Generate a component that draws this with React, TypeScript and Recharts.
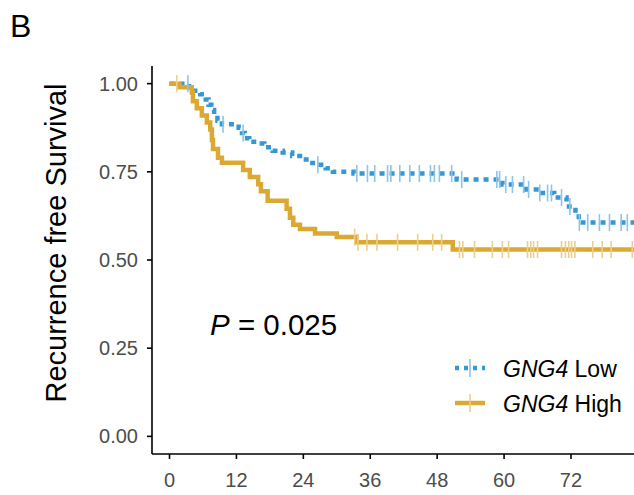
import React from "react";
import { ComposedChart, Line, Scatter, XAxis, YAxis } from "recharts";

// GNG4 Low (blue) Kaplan-Meier steps
const lowTimes = [0, 3.5, 4.5, 5.5, 6.5, 7.0, 7.5, 8.0, 8.6, 9.4, 12.4, 13.0, 13.5, 14.3, 15.8, 17.0, 18.5, 20.3, 22.0, 23.4, 25.0, 26.4, 28.0, 29.3, 33.0, 51.5, 59.7, 64.0, 66.4, 69.0, 71.2, 72.8, 73.4, 84.0];
const lowSurv = [1, 0.99, 0.98, 0.97, 0.955, 0.94, 0.925, 0.91, 0.895, 0.885, 0.875, 0.86, 0.845, 0.835, 0.83, 0.82, 0.81, 0.805, 0.795, 0.785, 0.775, 0.77, 0.76, 0.75, 0.745, 0.728, 0.714, 0.7, 0.69, 0.677, 0.652, 0.63, 0.606, 0.606];
const lowCensor = [3.3, 9.6, 13.2, 26.6, 33.6, 35.5, 36.8, 39.1, 39.7, 41.3, 43.1, 44.8, 46.8, 47.5, 48.4, 50.6, 52.4, 58.7, 59.2, 60.3, 61.5, 63.5, 64.4, 66.4, 67.8, 68.5, 70.3, 71.8, 73.5, 75.0, 77.1, 78.9, 81.0, 82.1];

// GNG4 High (gold) Kaplan-Meier steps
const highTimes = [0, 1.8, 4.0, 4.2, 4.9, 5.8, 6.7, 7.3, 7.6, 7.8, 8.7, 9.4, 13.2, 14.4, 15.9, 16.4, 17.6, 21.0, 21.6, 22.2, 23.4, 26.1, 30.0, 33.5, 50.8, 84.0];
const highSurv = [1, 0.99, 0.975, 0.95, 0.93, 0.91, 0.89, 0.87, 0.84, 0.815, 0.79, 0.776, 0.755, 0.735, 0.715, 0.695, 0.668, 0.645, 0.62, 0.6, 0.588, 0.575, 0.565, 0.55, 0.53, 0.53];
const highCensor = [1.3, 33.2, 33.8, 35.4, 37.2, 40.9, 44.5, 47.2, 48.8, 52.0, 52.6, 54.7, 57.9, 59.7, 60.8, 64.2, 64.8, 65.3, 66.0, 70.3, 71.0, 71.6, 72.1, 72.7, 75.9, 77.6, 79.2, 83.0];

const xTicks = [0, 12, 24, 36, 48, 60, 72];
const yTicks = [0, 0.25, 0.5, 0.75, 1];
const pValueText = "0.025";
const groupLabels = ["Low", "High"];
const geneName = "GNG4";

const BLUE = "#3597d3";
const GOLD = "#dba932";
const BLUE_LIGHT = "#8fc4e8";
const GOLD_LIGHT = "#ead08c";
const FONT = "'Liberation Sans', Arial, sans-serif";

const toSeries = (times: number[], surv: number[]) => times.map((t, i) => ({ t, s: surv[i] }));
const survAt = (times: number[], surv: number[], t: number) => {
  let v = surv[0];
  for (let i = 0; i < times.length; i++) if (times[i] <= t) v = surv[i];
  return v;
};
const toCensor = (cens: number[], times: number[], surv: number[]) => cens.map((t) => ({ t, s: survAt(times, surv, t) }));

const lowData = toSeries(lowTimes, lowSurv);
const highData = toSeries(highTimes, highSurv);
const lowCens = toCensor(lowCensor, lowTimes, lowSurv);
const highCens = toCensor(highCensor, highTimes, highSurv);

const makeTick = (color: string) => (props: any) => {
  const { cx, cy } = props;
  if (cx == null || cy == null) return null;
  return <line x1={cx} x2={cx} y1={cy - 8.5} y2={cy + 8.5} stroke={color} strokeWidth={1.6} />;
};

export default function App() {
  const W = 634;
  const H = 495;
  return (
    <div style={{ position: "relative", width: W, height: H, overflow: "hidden" }}>
      <style>{"html,body{margin:0;padding:0;overflow:hidden;}"}</style>
      <ComposedChart width={W} height={H} margin={{ top: 66, right: 0, left: 0, bottom: 0 }}>
        <XAxis
          type="number"
          dataKey="t"
          domain={[-3.14, 83.3]}
          ticks={xTicks}
          allowDataOverflow
          height={41}
          axisLine={{ stroke: "#000", strokeWidth: 1.6 }}
          tickLine={{ stroke: "#000", strokeWidth: 1.6 }}
          tickSize={5}
          tickMargin={14}
          tick={{ fill: "#4d4d4d", fontSize: 20, fontFamily: FONT }}
        />
        <YAxis
          type="number"
          dataKey="s"
          domain={[-0.05, 1.05]}
          ticks={yTicks}
          allowDataOverflow
          width={152}
          axisLine={{ stroke: "#000", strokeWidth: 1.6 }}
          tickLine={{ stroke: "#000", strokeWidth: 1.6 }}
          tickSize={5}
          tickMargin={9}
          tickFormatter={(v: number) => v.toFixed(2)}
          tick={{ fill: "#4d4d4d", fontSize: 20, fontFamily: FONT }}
        />
        <Line data={lowData} dataKey="s" type="stepAfter" stroke={BLUE} strokeWidth={4.5} strokeDasharray="5 5" dot={false} isAnimationActive={false} />
        <Line data={highData} dataKey="s" type="stepAfter" stroke={GOLD} strokeWidth={4.5} dot={false} isAnimationActive={false} />
        <Scatter data={lowCens} dataKey="s" shape={makeTick(BLUE_LIGHT)} isAnimationActive={false} />
        <Scatter data={highCens} dataKey="s" shape={makeTick(GOLD_LIGHT)} isAnimationActive={false} />
      </ComposedChart>
      <svg width={W} height={H} style={{ position: "absolute", left: 0, top: 0, pointerEvents: "none" }}>
        <text x={10} y={37} fontSize={32} fontFamily={FONT} fill="#000">B</text>
        <text
          x={0}
          y={0}
          transform="translate(56,243) rotate(-90)"
          textAnchor="middle"
          dominantBaseline="central"
          fontSize={29}
          fontFamily={FONT}
          fill="#000"
        >
          Recurrence free Survival
        </text>
        <text x={210} y={335} fontSize={29.5} fontFamily={FONT} fill="#000">
          <tspan fontStyle="italic">P</tspan>
          <tspan> = {pValueText}</tspan>
        </text>
        <line x1={455} x2={485} y1={368} y2={368} stroke={BLUE} strokeWidth={4.5} strokeDasharray="4 5" />
        <line x1={470} x2={470} y1={359} y2={377} stroke={BLUE_LIGHT} strokeWidth={1.6} />
        <text x={503} y={377} fontSize={23} fontFamily={FONT} fill="#000">
          <tspan fontStyle="italic">{geneName}</tspan>
          <tspan> {groupLabels[0]}</tspan>
        </text>
        <line x1={455} x2={485} y1={403} y2={403} stroke={GOLD} strokeWidth={4.5} />
        <line x1={470} x2={470} y1={394} y2={412} stroke={GOLD_LIGHT} strokeWidth={1.6} />
        <text x={503} y={412} fontSize={23} fontFamily={FONT} fill="#000">
          <tspan fontStyle="italic">{geneName}</tspan>
          <tspan> {groupLabels[1]}</tspan>
        </text>
      </svg>
    </div>
  );
}
